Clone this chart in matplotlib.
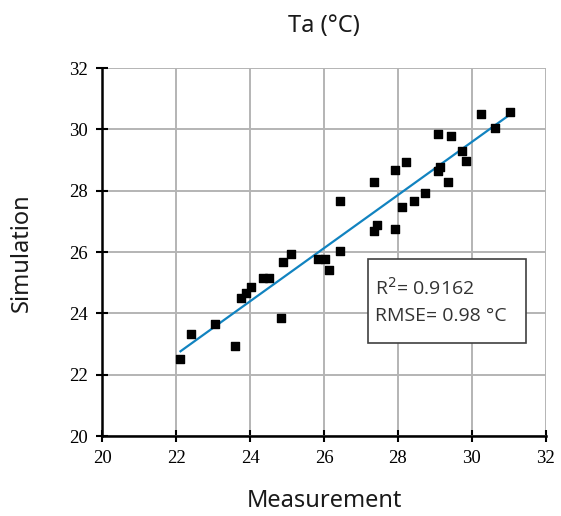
import numpy as np
import matplotlib
matplotlib.use("Agg")
import matplotlib.pyplot as plt
from matplotlib.patches import Rectangle

measured = [22.12, 22.40, 23.06, 23.59, 23.75, 23.88, 24.04, 24.36, 24.52,
            24.83, 24.88, 25.10, 25.84, 26.02, 26.13, 26.44, 26.44, 27.34,
            27.35, 27.44, 27.92, 27.92, 28.11, 28.22, 28.44, 28.74, 29.07,
            29.09, 29.14, 29.36, 29.43, 29.73, 29.83, 30.24, 30.63, 31.02]
simulated = [22.52, 23.33, 23.65, 22.93, 24.50, 24.68, 24.86, 25.16, 25.16,
             23.84, 25.68, 25.94, 25.78, 25.78, 25.42, 26.03, 27.66, 28.29,
             26.69, 26.87, 28.67, 26.76, 27.47, 28.95, 27.66, 27.93, 29.85,
             28.64, 28.78, 28.29, 29.78, 29.29, 28.97, 30.49, 30.05, 30.58]
ticks = [20, 22, 24, 26, 28, 30, 32]
stats_text = "R$^2$= 0.9162\nRMSE= 0.98 °C"

x = np.array(measured)
y = np.array(simulated)
slope, intercept = np.polyfit(x, y, 1)
xf = np.array([x.min(), x.max()])

fig = plt.figure(figsize=(5.61, 5.16), dpi=100)
ax = fig.add_axes([0.182, 0.155, 0.791, 0.713])

ax.grid(True, color="#b4b4b4", lw=1.4)
ax.set_axisbelow(True)
ax.plot(xf, slope * xf + intercept, color="#1183c0", lw=1.6, zorder=2)
ax.scatter(x, y, marker="s", s=40, color="black", zorder=3)

ax.set_xlim(20, 32); ax.set_ylim(20, 32)
ax.set_xticks(ticks); ax.set_yticks(ticks)
for s in ["top", "right"]:
    ax.spines[s].set_visible(False)
for s in ["left", "bottom"]:
    ax.spines[s].set_linewidth(1.8)
ax.tick_params(direction="inout", length=8, width=1.5, pad=6,
               labelsize=13.5, labelfontfamily="Liberation Serif")

box = Rectangle((27.2, 23.05), 4.25, 2.72, facecolor="white",
                edgecolor="#404040", lw=1.2, zorder=4)
ax.add_patch(box)
ax.text(27.38, 24.4, stats_text, fontsize=14, family="Open Sans",
        va="center", ha="left", linespacing=1.55, color="#333333", zorder=5)

fig.text(0.578, 0.95, "Ta (°C)", ha="center", va="center",
         fontsize=17, family="Noto Sans", color="#1a1a1a")
fig.text(0.578, 0.03, "Measurement", ha="center", va="center",
         fontsize=17, family="Noto Sans", color="#1a1a1a")
fig.text(0.038, 0.51, "Simulation", ha="center", va="center", rotation=90,
         fontsize=17, family="Noto Sans", color="#1a1a1a")

fig.savefig("out.png", dpi=100)
